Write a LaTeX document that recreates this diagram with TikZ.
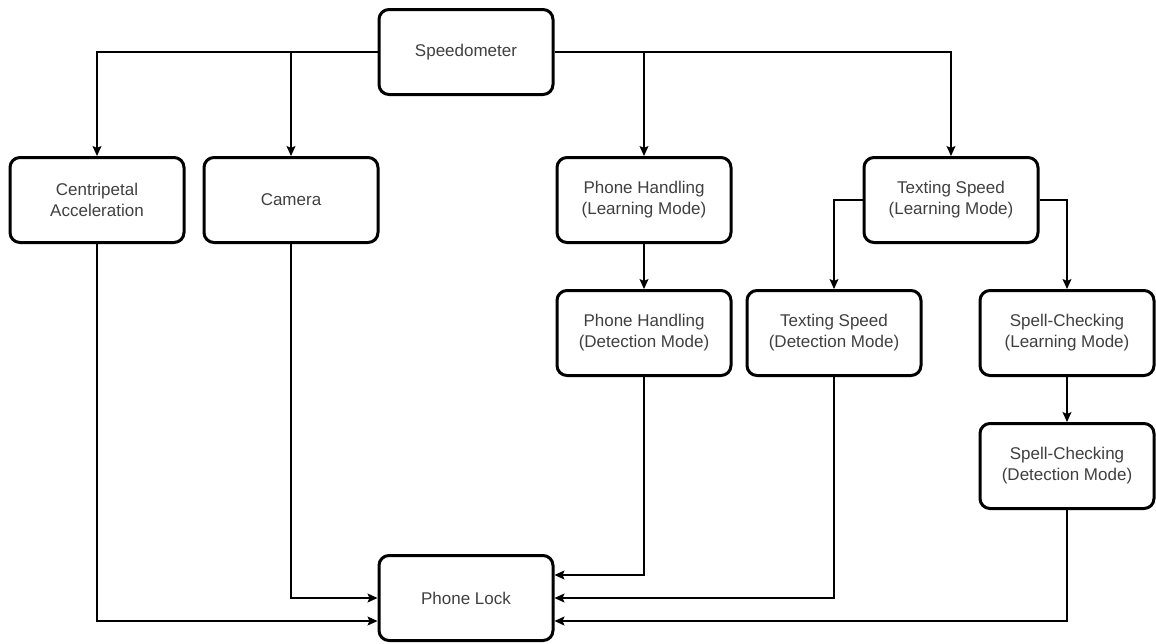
\documentclass[tikz,border=0pt]{standalone}
\usepackage{fontspec}
\setmainfont{Liberation Sans}
\usetikzlibrary{arrows.meta}
\definecolor{txtgray}{HTML}{404040}
\begin{document}
\begin{tikzpicture}[x=1pt,y=-1pt,
  block/.style={draw=black, line width=3pt, rounded corners=10pt, fill=white,
    minimum width=174pt, minimum height=85pt, inner sep=2pt, align=center,
    text=txtgray, font=\fontsize{17}{21}\selectfont},
  link/.style={draw=black, line width=1.2pt,
    -{Stealth[length=10pt,width=9pt,inset=2pt]}}
]
\useasboundingbox (0,0) rectangle (1156,643);

% boxes
\node[block] (spd)  at (466,52)   {Speedometer};
\node[block] (cen)  at (97,200)   {Centripetal\\Acceleration};
\node[block] (cam)  at (291,200)  {Camera};
\node[block] (phl)  at (644,200)  {Phone Handling\\(Learning Mode)};
\node[block] (tsl)  at (951,200)  {Texting Speed\\(Learning Mode)};
\node[block] (phd)  at (644,333)  {Phone Handling\\(Detection Mode)};
\node[block] (tsd)  at (834,333)  {Texting Speed\\(Detection Mode)};
\node[block] (scl)  at (1067,333) {Spell-Checking\\(Learning Mode)};
\node[block] (scd)  at (1067,466) {Spell-Checking\\(Detection Mode)};
\node[block] (lock) at (466,598)  {Phone Lock};

% speedometer fan-out
\draw[link] (spd.west) -| (cen.north);
\draw[link] (spd.west) -| (cam.north);
\draw[link] (spd.east) -| (phl.north);
\draw[link] (spd.east) -| (tsl.north);

% learning to detection
\draw[link] (phl.south) -- (phd.north);
\draw[link] (tsl.west) -| (tsd.north);
\draw[link] (tsl.east) -| (scl.north);
\draw[link] (scl.south) -- (scd.north);

% into the phone lock
\draw[link] (cen.south) |- ([yshift=-23pt]lock.west);
\draw[link] (cam.south) |- (lock.west);
\draw[link] (phd.south) |- ([yshift=23pt]lock.east);
\draw[link] (tsd.south) |- (lock.east);
\draw[link] (scd.south) |- ([yshift=-23pt]lock.east);
\end{tikzpicture}
\end{document}
